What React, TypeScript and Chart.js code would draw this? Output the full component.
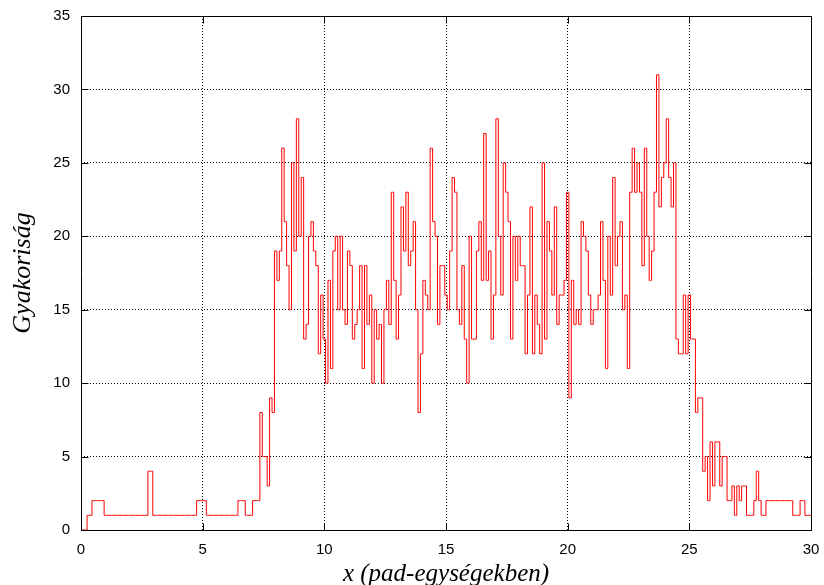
import { useEffect, useRef } from 'react';
import { Chart, registerables } from 'chart.js';

Chart.register(...registerables);

// Histogram bins: centre of first bin and bin width (pad units)
const BIN_START = 0;
const BIN_WIDTH = 0.1;

// Counts per bin, bins centred at 0.0, 0.1, ..., 30.0
const counts: number[] = [
  0, 0, 0, 1, 1, 2, 2, 2, 2, 2,
  1, 1, 1, 1, 1, 1, 1, 1, 1, 1,
  1, 1, 1, 1, 1, 1, 1, 1, 4, 4,
  1, 1, 1, 1, 1, 1, 1, 1, 1, 1,
  1, 1, 1, 1, 1, 1, 1, 1, 2, 2,
  2, 2, 1, 1, 1, 1, 1, 1, 1, 1,
  1, 1, 1, 1, 1, 2, 2, 2, 1, 1,
  1, 2, 2, 2, 8, 5, 5, 3, 9, 8,
  19, 17, 19, 26, 21, 18, 15, 25, 19, 28,
  20, 24, 13, 14, 20, 21, 19, 18, 12, 16,
  13, 10, 17, 11, 19, 20, 15, 20, 15, 14,
  19, 18, 13, 14, 15, 18, 11, 18, 14, 16,
  10, 15, 13, 14, 10, 15, 17, 14, 23, 17,
  13, 16, 22, 19, 23, 18, 19, 21, 15, 8,
  12, 17, 16, 15, 26, 21, 20, 14, 18, 18,
  16, 15, 19, 24, 23, 15, 14, 18, 13, 10,
  20, 13, 13, 19, 21, 17, 27, 17, 19, 13,
  16, 28, 20, 16, 25, 23, 21, 13, 20, 17,
  20, 18, 18, 12, 16, 22, 12, 16, 14, 12,
  25, 13, 21, 19, 16, 22, 14, 16, 16, 17,
  23, 9, 17, 14, 15, 14, 21, 20, 19, 16,
  14, 15, 15, 16, 21, 17, 11, 20, 16, 24,
  18, 20, 21, 15, 16, 11, 23, 26, 23, 25,
  23, 18, 26, 20, 17, 19, 23, 31, 22, 24,
  25, 28, 24, 22, 25, 13, 12, 12, 16, 12,
  16, 13, 13, 8, 9, 9, 4, 5, 2, 6,
  3, 6, 6, 3, 5, 5, 2, 2, 3, 1,
  3, 2, 3, 3, 1, 1, 1, 2, 4, 2,
  1, 1, 2, 2, 2, 2, 2, 2, 2, 2,
  2, 2, 2, 1, 1, 1, 2, 2, 1, 1,
  1,
];

const xTicks = [0, 5, 10, 15, 20, 25, 30];
const yTicks = [0, 5, 10, 15, 20, 25, 30, 35];

const X_TITLE = 'x (pad-egységekben)';
const Y_TITLE = 'Gyakoriság';

const TICK_FONT = { family: '"Liberation Sans", Arial, Helvetica, sans-serif', size: 15 };
const SERIF = '"Liberation Serif", "Times New Roman", serif';

const framePlugin = {
  id: 'gnuplotFrame',
  afterDatasetsDraw(chart: any) {
    const { ctx, chartArea, scales } = chart;
    const { left, right, top, bottom } = chartArea;
    const L = Math.round(left) + 0.5;
    const R = Math.round(right) + 0.5;
    const T = Math.round(top) + 0.5;
    const B = Math.round(bottom) + 0.5;
    const len = 7;
    ctx.save();
    ctx.strokeStyle = '#000';
    ctx.lineWidth = 1;
    ctx.setLineDash([]);
    ctx.beginPath();
    ctx.rect(L, T, R - L, B - T);
    for (const v of yTicks) {
      const py = Math.round(scales.y.getPixelForValue(v)) + 0.5;
      ctx.moveTo(L, py);
      ctx.lineTo(L + len, py);
      ctx.moveTo(R, py);
      ctx.lineTo(R - len, py);
    }
    for (const v of xTicks) {
      const px = Math.round(scales.x.getPixelForValue(v)) + 0.5;
      ctx.moveTo(px, B);
      ctx.lineTo(px, B - len);
      ctx.moveTo(px, T);
      ctx.lineTo(px, T + len);
    }
    ctx.stroke();
    ctx.restore();
  },
};

const zeroPadding = (s: any) => {
  s.paddingLeft = 0;
  s.paddingRight = 0;
  s.paddingTop = 0;
  s.paddingBottom = 0;
};

export default function App() {
  const canvasRef = useRef<HTMLCanvasElement | null>(null);

  useEffect(() => {
    const canvas = canvasRef.current;
    if (!canvas) return;
    const points = counts.map((c, i) => ({ x: BIN_START + i * BIN_WIDTH, y: c }));
    const chart = new Chart(canvas, {
      type: 'line',
      data: {
        datasets: [
          {
            data: points,
            borderColor: '#ff0000',
            borderWidth: 1,
            pointRadius: 0,
            stepped: 'middle',
            fill: false,
          },
        ],
      },
      options: {
        responsive: false,
        animation: false,
        devicePixelRatio: 1,
        layout: { padding: { left: 0, right: 13, top: 16, bottom: 0 } },
        plugins: {
          legend: { display: false },
          tooltip: { enabled: false },
        },
        scales: {
          x: {
            type: 'linear',
            min: 0,
            max: 30,
            afterBuildTicks: (s: any) => {
              s.ticks = xTicks.map((v) => ({ value: v }));
            },
            afterFit: (s: any) => {
              s.height = 55;
              zeroPadding(s);
            },
            ticks: { font: TICK_FONT, color: '#000', padding: 11, maxRotation: 0 },
            grid: { color: '#000', lineWidth: 1, drawTicks: false },
            border: { display: false, dash: [1, 2] },
            title: {
              display: true,
              text: X_TITLE,
              color: '#000',
              font: { family: SERIF, size: 25, style: 'italic', lineHeight: 1 },
              padding: { top: 0, bottom: -2 },
            },
          },
          y: {
            type: 'linear',
            min: 0,
            max: 35,
            afterBuildTicks: (s: any) => {
              s.ticks = yTicks.map((v) => ({ value: v }));
            },
            afterFit: (s: any) => {
              s.width = 81;
              zeroPadding(s);
            },
            ticks: { font: TICK_FONT, color: '#000', padding: 11 },
            grid: { color: '#000', lineWidth: 1, drawTicks: false },
            border: { display: false, dash: [1, 2] },
            title: {
              display: true,
              text: Y_TITLE,
              color: '#000',
              font: { family: SERIF, size: 26, style: 'italic', lineHeight: 1 },
              padding: { top: 10, bottom: 0 },
            },
          },
        },
      },
      plugins: [framePlugin],
    });
    return () => chart.destroy();
  }, []);

  return (
    <div style={{ position: 'fixed', left: 0, top: 0, width: 824, height: 585, background: '#fff' }}>
      <canvas ref={canvasRef} width={824} height={585} style={{ width: 824, height: 585, display: 'block' }} />
    </div>
  );
}
